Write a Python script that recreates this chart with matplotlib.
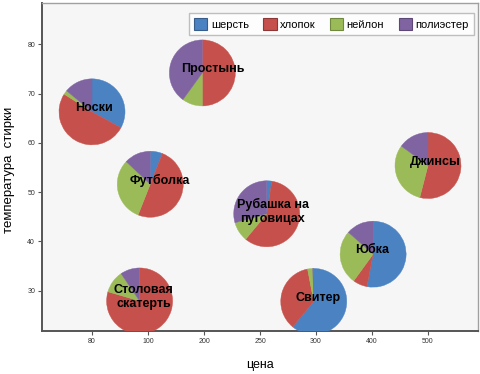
#!/usr/bin/env python3
"""Pie-marker scatter: fibre mix of garments by price and washing temperature."""
import numpy as np
import matplotlib

matplotlib.use("Agg")
import matplotlib.pyplot as plt  # noqa: E402
from matplotlib import transforms  # noqa: E402
from matplotlib.patches import Wedge, Patch  # noqa: E402

plt.rcParams.update({
    "font.family": ["Liberation Sans", "DejaVu Sans"],
})

# ---- data ---------------------------------------------------------------
fibres = ["шерсть", "хлопок", "нейлон", "полиэстер"]
fibre_colors = ["#4A82C2", "#C6504B", "#9BBB59", "#8064A2"]
fibre_edges = ["#385D8A", "#8C3836", "#71893F", "#5C4776"]

tick_prices = [80, 100, 200, 250, 300, 400, 500]
temp_ticks = [30, 40, 50, 60, 70, 80]

items = ["Носки", "Простынь", "Футболка", "Джинсы",
         "Рубашка на\nпуговицах", "Юбка", "Свитер", "Столовая\nскатерть"]
price = [80, 197, 104, 500, 256, 402, 298, 97]
temperature = [66.3, 74.2, 51.6, 55.4, 45.6, 37.4, 27.8, 27.9]

# share of each fibre, %
wool = [33, 0, 6, 0, 2.5, 53, 61, 0]
cotton = [51, 50, 50, 54, 58.5, 7, 36, 79.5]
nylon = [2, 10, 31, 31, 9.6, 26.5, 2.5, 11]
polyester = [14, 40, 13, 15, 29.4, 13.5, 0.5, 9.5]

# ---- layout -------------------------------------------------------------
PIE_R = 0.33  # inches
label_shift = {  # pixel nudges of item names relative to the pie centre
    "Носки": (2, 4), "Простынь": (11, 4), "Футболка": (10, 4),
    "Джинсы": (7, 4), "Рубашка на\nпуговицах": (6, 2), "Юбка": (-1, 4),
    "Свитер": (4, 3), "Столовая\nскатерть": (4, 4),
}

fig = plt.figure(figsize=(4.8, 3.74), dpi=100)
ax = fig.add_axes([42 / 480, 43 / 374, 436 / 480, 328 / 374])
ax.set_facecolor("#F6F6F6")

xpos = np.interp(price, tick_prices, np.arange(len(tick_prices)))
ax.set_xlim(-0.893, 6.893)
ax.set_ylim(21.8, 88.4)

shares = np.array([wool, cotton, nylon, polyester], dtype=float).T
for name, x, y, row in zip(items, xpos, temperature, shares):
    trans = fig.dpi_scale_trans + transforms.ScaledTranslation(x, y, ax.transData)
    frac = row / row.sum()
    cum = np.concatenate([[0], np.cumsum(frac)])
    for i, color in enumerate(fibre_colors):
        if frac[i] <= 0:
            continue
        w = Wedge((0, 0), PIE_R, 90 - cum[i + 1] * 360, 90 - cum[i] * 360,
                  facecolor=color, edgecolor=color, linewidth=0.3,
                  transform=trans, zorder=3)
        ax.add_patch(w)
    dx, dy = label_shift[name]
    ax.annotate(name, (x, y), xytext=(dx * 0.72, dy * 0.72), textcoords="offset points",
                ha="center", va="center", fontsize=9, fontweight="bold",
                linespacing=1.25, zorder=4)

ax.set_xticks(np.arange(len(tick_prices)))
ax.set_xticklabels([str(p) for p in tick_prices])
ax.set_yticks(temp_ticks)
ax.tick_params(axis="both", labelsize=5, length=3, width=0.8, color="#555555",
               labelcolor="#333333", pad=2)

for side in ("left", "bottom"):
    ax.spines[side].set_color("#555555")
    ax.spines[side].set_linewidth(1.4)
for side in ("top", "right"):
    ax.spines[side].set_color("#A0A0A0")
    ax.spines[side].set_linewidth(1.0)

ax.set_xlabel("цена", fontsize=9)
ax.xaxis.set_label_coords(0.5, -0.085)
ax.set_ylabel("температура  стирки", fontsize=9.5)
ax.yaxis.set_label_coords(-0.061, 0.49)

handles = [Patch(facecolor=c, edgecolor=e, linewidth=0.8)
           for c, e in zip(fibre_colors, fibre_edges)]
leg = ax.legend(handles, fibres, loc="upper right", bbox_to_anchor=(0.99, 0.968),
                ncol=4, fontsize=8, frameon=True, fancybox=False,
                handlelength=1.2, handleheight=1.2, handletextpad=0.3,
                columnspacing=1.3, borderpad=0.45, borderaxespad=0)
leg.get_frame().set_edgecolor("#B0B0B0")
leg.get_frame().set_linewidth(1.0)

fig.savefig("out.png", dpi=100, facecolor="white")
